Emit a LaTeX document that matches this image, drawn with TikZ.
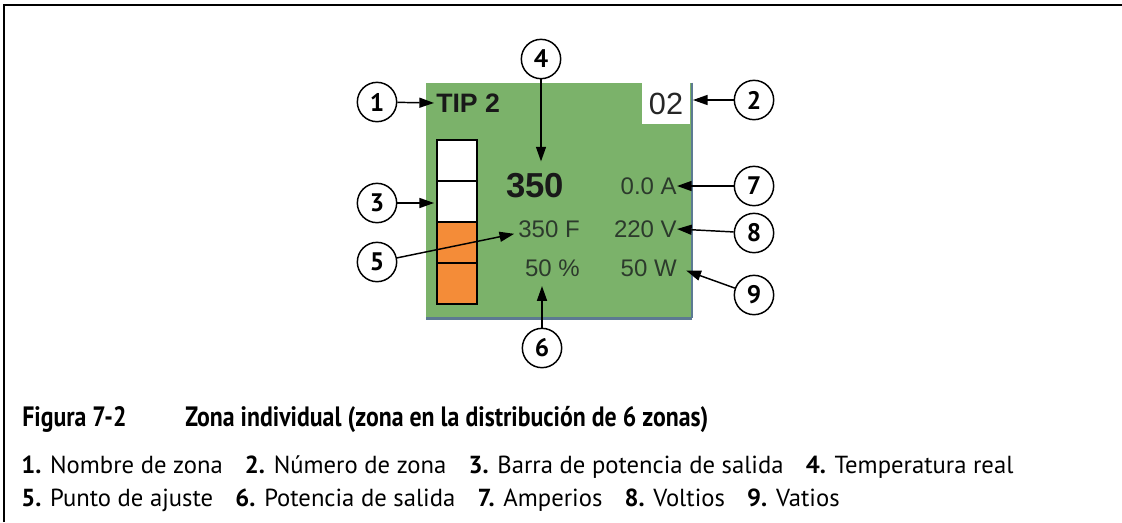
\documentclass[tikz,border=0pt]{standalone}
\usepackage{fontspec}
\setmainfont{PT Sans}
\newfontfamily\panelfont{Liberation Sans}
\newfontfamily\capfont[FakeStretch=0.85]{PT Sans}
\usetikzlibrary{positioning,arrows.meta}

\definecolor{zonegreen}{RGB}{123,178,106}
\definecolor{zoneedge}{RGB}{92,122,146}
\definecolor{barorange}{RGB}{244,140,56}
\definecolor{readout}{RGB}{44,58,44}

\begin{document}
\begin{tikzpicture}[x=0.75pt,y=-0.75pt,
  callout/.style={circle,draw,line width=1.1pt,minimum size=29.5pt,inner sep=0pt,
    font=\fontsize{19}{19}\selectfont\bfseries},
  pointer/.style={-{Triangle[length=11pt,width=7.5pt]},line width=1.1pt},
  value/.style={font=\panelfont\fontsize{18}{18}\selectfont,text=readout,inner sep=0pt}]

\useasboundingbox (0,0) rectangle (1122,522);

% Rahmen (oben und links)
\draw[line width=1.6pt] (4,522) -- (4,5) -- (1122,5);

% Zonenfeld
\node[fill=zonegreen,inner sep=0pt,minimum width=199.5pt,minimum height=176.25pt] (panel) at (559,200.5) {};
\draw[zoneedge,line width=1.6pt] (panel.north east) -- (panel.south east);
\draw[zoneedge,line width=2.4pt] (panel.south east) -- (panel.south west);

% Zonennummer
\node[fill=white,inner sep=0pt,minimum width=36pt,minimum height=30.75pt,
  font=\panelfont\fontsize{23}{23}\selectfont,text=black!85] (zonenum) at (666,103.5) {02};

% Leistungsbalken (4 Segmente)
\foreach \i/\c in {0/white,1/white,2/barorange,3/barorange} {
    \draw[fill=\c,line width=1.8pt] (437,140+41*\i) rectangle (477,181+41*\i);
}
\node[inner sep=0pt,minimum width=30pt,minimum height=123pt] (bar) at (457,222) {};

% Werte
\node[font=\panelfont\bfseries\fontsize{20}{20}\selectfont,text=black!90,anchor=west,inner sep=0pt] (zonename) at (436,103) {TIP 2};
\node[font=\panelfont\bfseries\fontsize{26}{26}\selectfont,text=black!90,inner sep=0pt] (actual) at (535,186) {350};
\node[value,anchor=east] (amps) at (677,186) {0.0 A};
\node[value,anchor=east] (setpoint) at (580,229) {350 F};
\node[value,anchor=east] (volts) at (677,229) {220 V};
\node[value,anchor=east] (power) at (580,268) {50 \%};
\node[value,anchor=east] (watts) at (677,268) {50 W};

% Nummernkreise
\foreach \n/\x/\y in {1/377/102,2/754/100,3/377/203,4/541/59,5/377/262,
                      6/542/348,7/754/186,8/754/233,9/754/295} {
    \node[callout] (n\n) at (\x,\y) {\n};
}

% Pfeile
\draw[pointer,shorten >=1.5pt] (n1) -- (zonename.west);
\draw[pointer,shorten >=2pt] (n2) -- (n2 -| zonenum.east);
\draw[pointer,shorten >=2pt] (n3) -- (n3 -| bar.west);
\draw[pointer,shorten >=9pt] (n4) -- (n4 |- actual.north);
\draw[pointer,shorten >=3pt] (n5) -- ([yshift=-3pt]setpoint.west);
\draw[pointer,shorten >=7pt] (n6) -- (n6 |- power.south);
\draw[pointer] (n7) -- (amps.east);
\draw[pointer] (n8) -- (volts.east);
\draw[pointer] (n9) -- ([xshift=7pt,yshift=-2pt]watts.east);

% Bildunterschrift
\node[anchor=base west,inner sep=0pt,font=\capfont\bfseries\fontsize{21}{21}\selectfont] (figno) at (22,426) {Figura 7-2};
\node[anchor=base west,inner sep=0pt,font=\capfont\bfseries\fontsize{21}{21}\selectfont] (figtitle) at (185,426) {Zona individual (zona en la distribución de 6 zonas)};
\node[anchor=base west,inner sep=0pt,font=\fontsize{18.5}{18.5}\selectfont] (items1) at (21,473)
  {\textbf{1.} Nombre de zona\hspace{0.9em}\textbf{2.} Número de zona\hspace{0.9em}\textbf{3.} Barra de potencia de salida\hspace{0.9em}\textbf{4.} Temperatura real};
\node[anchor=base west,inner sep=0pt,font=\fontsize{18.5}{18.5}\selectfont] (items2) at (21,506)
  {\textbf{5.} Punto de ajuste\hspace{0.9em}\textbf{6.} Potencia de salida\hspace{0.9em}\textbf{7.} Amperios\hspace{0.9em}\textbf{8.} Voltios\hspace{0.9em}\textbf{9.} Vatios};

\end{tikzpicture}
\end{document}
